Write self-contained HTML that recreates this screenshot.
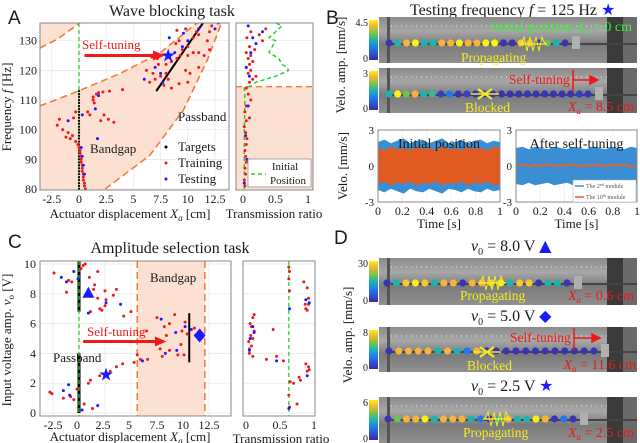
<!DOCTYPE html>
<html><head><meta charset="utf-8">
<style>
html,body{margin:0;padding:0;background:#fff;}
svg{display:block;font-family:"Liberation Serif",serif;}
</style></head>
<body>
<svg id="fig" width="640" height="443" viewBox="0 0 640 443" xmlns="http://www.w3.org/2000/svg">
<defs>
<linearGradient id="cmap" x1="0" y1="1" x2="0" y2="0">
<stop offset="0" stop-color="#3e26a8"/><stop offset="0.3" stop-color="#1f78f0"/><stop offset="0.5" stop-color="#1bb5b0"/><stop offset="0.7" stop-color="#8cc43c"/><stop offset="0.85" stop-color="#f6b43a"/><stop offset="1" stop-color="#f9f20f"/>
</linearGradient>
<linearGradient id="photo" x1="0" y1="0" x2="0" y2="1">
<stop offset="0" stop-color="#8a8a8a"/><stop offset="0.3" stop-color="#a8a8a8"/><stop offset="0.6" stop-color="#7a7a7a"/><stop offset="1" stop-color="#909090"/>
</linearGradient>
<clipPath id="clipA"><rect x="40" y="23" width="189" height="167"/></clipPath>
<clipPath id="clipC"><rect x="40" y="261" width="191" height="155"/></clipPath>
</defs>
<g id="layer"></g>
</svg>
<script>
// ---------- DATA ----------
const aTrainX=[0.6,0.5,0.5,0.4,0.4,0.4,0.3,0.3,0.3,0.2,0.2,0.2,0.1,0.1,0,-0.1,-0.3,-0.8,-1.2,-0.6,-1,-1.5,-2,-1.8,-0.5,-0.3,0.8,1.0,1.3,1.4,1.3,1.6,1.8,2.2,2.8,4,2.3,2.0,2.7,3.2,6.5,7,7.5,8,6.2,6.8,7.3,8.5,9,9.3,10,10.5,11,9.5,10,8.9,9.2,10.5,11,10.8,9.8,9,12.2,12,7.8,8.5,9.2,10,8.2,10.2,11,11.5,12,11.8,8,7.2,9.8,6.7];
const aTrainF=[80,81,82,83,84,85,86,87,88,89,90,91,92,93,94,95,96,97,97.5,98,99,100,101.5,103.5,104,106,106,105,110,109,111,112,112.5,112.7,113,113.5,105,103,103.5,102.5,116,117,118,119,120,119,122,123,124,125,125,126,126,127,128,129,130,131,132,133,134,133.5,135,133,115,114,115.5,116,117,119,121,125,127,130,122,124,120,124.5];
const aTestX=[0.5,0.4,0.3,0.2,-1,0.3,1.5,1.8,1.7,6,7,7.7,8.8,9.5,10,9.6,11,12.5,12.8,7.5,8.3];
const aTestF=[85,88,91,94,103,105,107,111.5,97,117,121,116,126,128,130,132.5,134,134,136,119,131];
const aTargetF=[80,81,82,83,84,85,86,87,88,89,90,91,92,93,94,95,96,97,98,99,100,101,102,103,104,105,106,107,108,109,110,111,112,113];
const aTargetLineX=[7.1,11.4];
const aTargetLineF=[113,136];
const curve1X=[-3.6,-2,0.1]; const curve1F=[127.5,130.5,136];
const curve2X=[-3.6,0,3.8,7.45,10.85]; const curve2F=[108,113.1,119,125.9,136];
const curve3X=[2.4,6.5,9.6,11.8,13.1]; const curve3F=[80,91.3,106.6,123.5,136];
const aTrR=[0.03,0.02,0.04,0.03,0.05,0.04,0.03,0.05,0.06,0.04,0.02,0.05,0.1,0.03,0.05,0.12,0.08,0.05,0.1,0.15,0.2,0.08,0.12,0.05,0.1,0.15,0.08,0.12,0.05,0.18,0.1,0.3,0.35,0.06,0.25,0.12];
const aTrF=[81,83,85,87,89,91,93,95,97,99,101,103,104,106,108,110,112,114,116,117,118,119,120,121,122,123,124,125,126,127,128,130,134,131,132,133];
const aTrBR=[0.02,0.06,0.04,0.08,0.1,0.05,0.12,0.2,0.15,0.3,0.08];
const aTrBF=[82,90,98,108,118,121,126,129,131,133,135];
const greenR=[0.02,0.02,0.03,0.02,0.15,0.2,0.5,0.7,0.68,0.6,0.55,0.4,0.45,0.5,0.4,0.45,0.55,0.6,0.5];
const greenF=[80,100,110,114,115,116,118,120,121,122,124,126,128,130,131,132,134,135,136];
const envBlueL=[2.0,2.2,1.9,2.1,2.3,1.9,2.1,2.2,1.9,2.1,2.3,1.9,2.0,2.2,1.9,2.1,2.2,1.9,2.1,2.0];
const envOrgL=[1.5,1.3,1.6,1.4,1.5,1.3,1.6,1.4,1.5,1.3,1.6,1.4,1.5,1.3,1.6,1.4,1.5,1.3,1.6,1.5];
const envBlueR=[1.5,1.6,1.4,1.6,1.5,1.4,1.6,1.5,1.4,1.6,1.5,1.4,1.6,1.5,1.4,1.6,1.5,1.4,1.6,1.5];
const envOrgR=[0.05,0.15,-0.05,0.1,0.0,0.15,-0.05,0.1,0.0,0.15,-0.05,0.1,0.0,0.15,-0.05,0.1,0.0,0.15,-0.05,0.05];
const dotsB1=[0.05,0.5,0.85,1,0.5,0.5,0.85,0.85,1,0.85,0.85,1,1,0.05,0.05,0.9,0.85,0.05,0.65,0.5,0.05];
const dotsB2=[0.5,1,0.65,0.85,0.5,0.55,0.1,0.3,0.05,0.1,0.05,0.05,0.05,0.05,0.05,0.05,0.05,0.05,0.05,0.05,0.05,0.05,0.1,0.05];
const dotsD1=[0.05,0.5,0.9,1,0.9,0.5,0.85,0.85,0.05,0.85,0.85,0.9,1,0.5,0.9,0.9,0.05,0.5,0.5,0.05];
const dotsD2=[0.05,0.85,0.85,0.85,0.85,0.5,0.85,0.5,0.3,0.85,0.05,0.05,0.05,0.05,0.05,0.05,0.05,0.05,0.05,0.05,0.05,0.05];
const dotsD3=[0.05,0.65,0.85,0.85,1,0.5,0.85,0.85,0.85,0.5,0.3,0.05,0.5,0.85,0.5,0.5,1,0.85,0.05,0.3,0.05];
const cTrainX=[-2.8,-2.6,-1.5,-0.8,-0.5,-0.2,-2.4,-1,-0.7,-1.2,0.2,0.4,0.6,1.0,1.5,1.8,2.5,2.6,1.4,2.0,3.3,3.6,4.3,2.5,5,0.9,1.1,2.0,2.5,3,3.6,4.2,5.3,6.6,5.6,0.5,1.3,1.1,2.2,1.8,7.8,8,8.2,8.7,9.2,10.2,10.4,11.1,9.5,8.7,8.4,9.8,10.1,7.5,8,9.9,6.5,5.9];
const cTrainV=[1.4,1.3,1,1.1,0.9,1.6,9.4,8.9,8.8,8.1,9.7,9.9,10,9.1,8.6,7.7,7.2,7.6,8.3,7.0,7.9,8.3,6.5,8.2,6.8,2.0,2.2,2.5,2.6,2.8,3.1,3.3,3.4,3.6,3.9,0.6,0.3,6.8,6.9,9.5,4.3,4.8,5.8,6,6.6,6.1,5.3,5.7,3.9,4.2,5.2,4.6,3.9,6.4,3.8,5.5,5.5,3.6];
const cTestX=[-1.7,-0.5,-1.2,-0.1,2.6,4,0.9,-1.5,-0.9,-1.0,1.8,0.3,7.9,9.3,10.2,9.4,8.3,10.8,6.1];
const cTestV=[9.1,9.5,8.8,9.0,7.4,7.3,6.7,1.5,1.2,1.9,0.5,0.2,6.3,5.4,5.8,4.2,4.0,5.6,3.5];
const cTrR=[0.05,0.08,0.1,0.12,0.06,0.1,0.04,0.08,0.12,0.05,0.1,0.07,0.3,0.45,0.55,0.4,0.9,0.92,0.88,0.93,0.85,0.9,0.92,0.87,0.9,0.88,0.92,0.75,0.7,0.8,0.78,0.63,0.64,0.63,0.64,0.63,0.65,0.64];
const cTrV=[4.0,4.5,5.0,5.5,6.0,6.4,4.8,5.8,6.6,4.3,3.8,5.2,3.6,3.8,3.5,5.6,2.8,3.1,3.3,2.9,8.8,8.4,7.7,7.3,6.9,7.0,7.3,0.6,2.0,2.2,2.4,9.8,9.5,9.0,8.2,1.2,2.1,0.4];
const cTrBR=[0.1,0.12,0.06,0.05,0.45,0.9,0.93,0.88,0.64,0.63];
const cTrBV=[5.8,5.4,5.0,4.2,3.5,2.5,7.4,7.6,7.0,0.3];
const aXTicks=[-2.5,0,2.5,5,7.5,10,12.5];
const aYTicks=[80,90,100,110,120,130];
const trTicks=[0,0.5,1];
const bYTicks=[-3,0,3];
const bXTicks=[0,0.2,0.4,0.6,0.8,1];
const cYTicks=[0,2,4,6,8,10];

// ---------- HELPERS ----------
const NS='http://www.w3.org/2000/svg';
const root=document.getElementById('layer');
function mk(tag,at,parent){const e=document.createElementNS(NS,tag);for(const k in at)e.setAttribute(k,at[k]);(parent||root).appendChild(e);return e;}
function lin(d0,d1,r0,r1){return v=>r0+(v-d0)*(r1-r0)/(d1-d0);}
function txt(x,y,s,st){st=st||{};
 const a={x:x,y:y};
 if(st.anchor)a['text-anchor']=st.anchor;
 if(st.transform)a.transform=st.transform;
 let style='font-size:'+(st.size||12)+'px;fill:'+(st.fill||'#1a1a1a')+';';
 if(st.italic)style+='font-style:italic;';
 if(st.family)style+='font-family:'+st.family+';';
 a.style=style;
 const t=mk('text',a);t.innerHTML=s;return t;}
function cmap(v){const st=[[0,[62,38,168]],[0.3,[31,120,240]],[0.5,[27,181,176]],[0.7,[140,196,60]],[0.85,[246,180,58]],[1,[249,242,15]]];
 for(let i=1;i<st.length;i++){if(v<=st[i][0]){const a=st[i-1],b=st[i],t=(v-a[0])/(b[0]-a[0]);return 'rgb('+a[1].map((c,j)=>Math.round(c+(b[1][j]-c)*t)).join(',')+')';}}return 'rgb(249,242,15)';}
const XA='<tspan font-style="italic">X</tspan><tspan font-style="italic" font-size="9" dy="3">a</tspan><tspan dy="-3"> </tspan>';
const DJ='"DejaVu Sans",sans-serif';

// ---------- PANEL A ----------
const xA=lin(0,12.5,79,215), yA=lin(80,130,189,40.7);
txt(8,24,'A',{size:19,family:'"Liberation Sans",sans-serif'});
txt(172,16,'Wave blocking task',{size:16,anchor:'middle'});
const gA=mk('g',{'clip-path':'url(#clipA)'});


aXTicks.forEach(v=>{const l=mk('line',{x1:xA(v),x2:xA(v),y1:23,y2:190,stroke:'#e6e6e6','stroke-width':0.7},gA);

});
aYTicks.forEach(v=>{const l=mk('line',{x1:40,x2:229,y1:yA(v),y2:yA(v),stroke:'#e6e6e6','stroke-width':0.7},gA);

});
let p1=curve1X.map((x,i)=>xA(x)+','+yA(curve1F[i]));p1.push(xA(0.1)+','+yA(140),xA(-3.6)+','+yA(140));
const sh1=mk('polygon',{points:p1.join(' '),fill:'#fce0d2'},gA);


let p2=curve2X.map((x,i)=>xA(x)+','+yA(curve2F[i]));
for(let i=curve3X.length-1;i>=0;i--)p2.push(xA(curve3X[i])+','+yA(curve3F[i]));
p2.push(xA(-3.6)+','+yA(78));
const sh2=mk('polygon',{points:p2.join(' '),fill:'#fce0d2'},gA);


[[curve1X,curve1F],[curve2X,curve2F],[curve3X,curve3F]].forEach(c=>{
 const pl=mk('polyline',{points:c[0].map((x,i)=>xA(x)+','+yA(c[1][i])).join(' '),fill:'none',stroke:'#f47a3a','stroke-width':1.6,'stroke-dasharray':'7,4'},gA);
 
 });
const gl=mk('line',{x1:xA(0),x2:xA(0),y1:23,y2:190,stroke:'#2ecc2e','stroke-width':1.3,'stroke-dasharray':'4,3'},gA);


aTargetF.forEach(f=>{const c=mk('circle',{cx:xA(0),cy:yA(f),r:1.1,fill:'#000'},gA);

});
const tl=mk('line',{x1:xA(aTargetLineX[0]),y1:yA(aTargetLineF[0]),x2:xA(aTargetLineX[1]),y2:yA(aTargetLineF[1]),stroke:'#000','stroke-width':2},gA);


aTrainX.forEach((x,i)=>{const c=mk('circle',{cx:xA(x),cy:yA(aTrainF[i]),r:1.5,fill:'#f01818'},gA);

});
aTestX.forEach((x,i)=>{const c=mk('circle',{cx:xA(x),cy:yA(aTestF[i]),r:1.5,fill:'#1a1aff'},gA);

});
const arA=mk('path',{d:`M${xA(0.5)},${yA(125)-1.5} L${xA(6.8)},${yA(125)-1.5} L${xA(6.8)},${yA(125)-5} L${xA(7.9)},${yA(125)} L${xA(6.8)},${yA(125)+5} L${xA(6.8)},${yA(125)+1.5} L${xA(0.5)},${yA(125)+1.5}Z`,fill:'#f01818'});


txt(82,49,'Self-tuning',{size:13,fill:'#f01818'});
const stA=txt(xA(8.2),yA(125)+6,'★',{fill:'#1a1aff',size:18,anchor:'middle',family:DJ});


txt(90,153,'Bandgap',{size:13});
txt(178,121,'Passband',{size:13});
[['#000','Targets',151],['#f01818','Training',167],['#1a1aff','Testing',183]].forEach(l=>{
 const c=mk('circle',{cx:166,cy:l[2]-4,r:1.5,fill:l[0]});
 
 
 txt(178,l[2],l[1],{size:13});});
mk('rect',{x:40,y:23,width:189,height:167,fill:'none',stroke:'#888','stroke-width':1});
aXTicks.forEach(v=>txt(xA(v),203,String(v),{anchor:'middle'}));
aYTicks.forEach(v=>txt(37,yA(v)+4,String(v),{anchor:'end'}));
txt(130,218,'Actuator displacement '+XA+'[cm]',{size:13,anchor:'middle'});
txt(11,107,'Frequency <tspan font-style="italic">f</tspan> [Hz]',{size:13,anchor:'middle',transform:'rotate(-90 11 107)'});
const xT=lin(0,1,243,308);
mk('rect',{x:236,y:yA(114.5),width:77,height:190-yA(114.5),fill:'#fce0d2'});
aYTicks.forEach(v=>mk('line',{x1:236,x2:313,y1:yA(v),y2:yA(v),stroke:'#e6e6e6','stroke-width':0.7}));
mk('line',{x1:236,x2:313,y1:yA(114.5),y2:yA(114.5),stroke:'#f47a3a','stroke-width':1.4,'stroke-dasharray':'6,4'});
const gp=mk('polyline',{points:greenR.map((r,i)=>xT(r)+','+yA(greenF[i])).join(' '),fill:'none',stroke:'#2ecc2e','stroke-width':1.5,'stroke-dasharray':'4,3'});


aTrR.forEach((r,i)=>{const c=mk('circle',{cx:xT(r),cy:yA(aTrF[i]),r:1.5,fill:'#f01818'});

});
aTrBR.forEach((r,i)=>{const c=mk('circle',{cx:xT(r),cy:yA(aTrBF[i]),r:1.5,fill:'#1a1aff'});

});
mk('rect',{x:248,y:159,width:63,height:28,fill:'#fff',stroke:'#888','stroke-width':0.7});
mk('line',{x1:251,x2:266,y1:174,y2:174,stroke:'#2ecc2e','stroke-width':1.5,'stroke-dasharray':'4,3'});
txt(285,170,'Initial',{size:11,anchor:'middle'});
txt(288,184,'Position',{size:11,anchor:'middle'});
mk('rect',{x:236,y:23,width:77,height:167,fill:'none',stroke:'#888','stroke-width':1});
trTicks.forEach(v=>txt(xT(v),203,String(v),{anchor:'middle'}));
txt(274,218,'Transmission ratio',{size:13,anchor:'middle'});

// ---------- photos ----------
function photo(x,y,w,h,vals,dx0,dx1,dy,cbTop){
 const g=mk('g',{});
 
 
 mk('rect',{x:x,y:y,width:w,height:h,fill:'url(#photo)'},g);
 mk('rect',{x:x+w-30,y:y,width:16,height:h,fill:'#3a3a3a'},g);
 mk('rect',{x:x+w-14,y:y,width:14,height:h,fill:'#6a6a6a'},g);
 mk('rect',{x:x+8,y:y,width:3,height:h,fill:'#555'},g);
 mk('line',{x1:x+12,x2:x+w-30,y1:y+9,y2:y+9,stroke:'#d8d8d8','stroke-width':1.2,'stroke-dasharray':'1,4'},g);
 mk('line',{x1:x+12,x2:x+w,y1:dy+1,y2:dy+1,stroke:'#444','stroke-width':2},g);
 const step=(dx1-dx0)/(vals.length-1);
 vals.forEach((v,i)=>{const c=mk('circle',{cx:dx0+i*step,cy:dy,r:3.6,fill:cmap(v)},g);
 
 });
 mk('rect',{x:dx1+7,y:dy-7,width:8,height:13,fill:'#b0b0b0'},g);
 const cb=mk('rect',{x:x-10,y:y+3,width:9,height:h-6,fill:'url(#cmap)'});
 
 
 txt(x-11,y+9,cbTop,{size:10,anchor:'end'});
 txt(x-11,y+h-1,'0',{size:10,anchor:'end'});
}
function wave(cx,cy){mk('polyline',{points:`${cx-12},${cy} ${cx-9},${cy-7} ${cx-6},${cy+7} ${cx-3},${cy-7} ${cx},${cy+7} ${cx+3},${cy-7} ${cx+6},${cy+7} ${cx+9},${cy-7} ${cx+12},${cy}`,fill:'none',stroke:'#f4ec20','stroke-width':1});
 mk('line',{x1:cx-14,x2:cx+14,y1:cy,y2:cy,stroke:'#f4ec20','stroke-width':1.5});}
function blocked(cx,cy){mk('path',{d:`M${cx-7},${cy-5}L${cx+7},${cy+5}M${cx-7},${cy+5}L${cx+7},${cy-5}`,stroke:'#f4ec20','stroke-width':2});
 mk('line',{x1:cx-14,x2:cx+14,y1:cy,y2:cy,stroke:'#f4ec20','stroke-width':1.5});}

// ---------- PANEL B ----------
txt(326,24,'B',{size:19,family:'"Liberation Sans",sans-serif'});
txt(410,15,'Testing frequency <tspan font-style="italic">f</tspan> = 125 Hz <tspan fill="#1a1aff" style="font-family:DejaVu Sans">★</tspan>',{size:16});
photo(379,17,258,46,dotsB1,389,565,43,'4.5');
photo(379,68,258,45,dotsB2,389,588,94,'3');
txt(632,31,'Initial position '+XA+'= 0 cm',{size:14,anchor:'end',fill:'#3cf03c'});
wave(533,44); txt(461,62,'Propagating',{size:13.5,fill:'#f4ec20'});
blocked(485,94); txt(465,112,'Blocked',{size:13.5,fill:'#f4ec20'});
txt(509,84,'Self-tuning',{size:13.5,fill:'#f01818'});
mk('line',{x1:573,x2:573,y1:70,y2:92,stroke:'#f01818','stroke-width':1.5});
mk('path',{d:'M573,80 L594,80 M590,76 L598,80 L590,84Z',stroke:'#f01818',fill:'#f01818','stroke-width':1.5});
txt(634,111,XA+'= 8.5 cm',{size:14,anchor:'end',fill:'#f01818'});
txt(345,65,'Velo. amp. [mm/s]',{size:13,anchor:'middle',transform:'rotate(-90 345 65)'});
txt(347,166,'Velo. [mm/s]',{size:13,anchor:'middle',transform:'rotate(-90 347 166)'});
function tsPlot(x0,w,envB,envO,title,legend){
 const xs=lin(0,1,x0,x0+w), ys=lin(-3,3,202,130);
 bXTicks.forEach(v=>mk('line',{x1:xs(v),x2:xs(v),y1:130,y2:202,stroke:'#eee','stroke-width':0.7}));
 const n=envB.length;
 const top=envB.map((a,i)=>xs(i/(n-1))+','+ys(a)), bot=envB.map((a,i)=>xs(i/(n-1))+','+ys(-a)).reverse();
 const pb=mk('polygon',{points:top.concat(bot).join(' '),fill:'#3a8fd4'});
 
 
 if(legend){
  const po=mk('polyline',{points:envO.map((a,i)=>xs(i/(n-1))+','+ys(a)).join(' '),fill:'none',stroke:'#e8602a','stroke-width':2});
  
  
 } else {
  const t2=envO.map((a,i)=>xs(i/(n-1))+','+ys(a)), b2=envO.map((a,i)=>xs(i/(n-1))+','+ys(-a)).reverse();
  const po=mk('polygon',{points:t2.concat(b2).join(' '),fill:'#e05a22'});
  
  
 }
 mk('rect',{x:x0,y:130,width:w,height:72,fill:'none',stroke:'#888','stroke-width':1});
 txt(x0+w/2,148,title,{size:14,anchor:'middle'});
 bYTicks.forEach(v=>txt(x0-4,ys(v)+4,String(v),{size:11,anchor:'end'}));
 bXTicks.forEach(v=>txt(xs(v),215,String(v),{anchor:'middle'}));
 txt(x0+w/2,228,'Time [s]',{size:13,anchor:'middle'});
 if(legend){
  mk('rect',{x:573,y:180,width:63,height:22,fill:'#fff',stroke:'#aaa','stroke-width':0.5});
  mk('line',{x1:575,x2:584,y1:186,y2:186,stroke:'#3a8fd4','stroke-width':1.5});
  mk('line',{x1:575,x2:584,y1:197,y2:197,stroke:'#e8602a','stroke-width':1.5});
  txt(586,188,'The 2<tspan font-size="4" dy="-2">nd</tspan><tspan dy="2"> module</tspan>',{size:6,fill:'#555'});
  txt(586,199,'The 10<tspan font-size="4" dy="-2">th</tspan><tspan dy="2"> module</tspan>',{size:6,fill:'#555'});
 }
}
tsPlot(378,122,envBlueL,envOrgL,'Initial position',false);
tsPlot(516,121,envBlueR,envOrgR,'After self-tuning',true);

// ---------- PANEL C ----------
const xC=lin(0,12.5,79,209), yC=lin(0,10,413,264);
txt(8,248,'C',{size:19,family:'"Liberation Sans",sans-serif'});
txt(170,253,'Amplitude selection task',{size:16,anchor:'middle'});
const gC=mk('g',{'clip-path':'url(#clipC)'});


aXTicks.forEach(v=>mk('line',{x1:xC(v),x2:xC(v),y1:261,y2:416,stroke:'#e6e6e6','stroke-width':0.7},gC));
cYTicks.forEach(v=>mk('line',{x1:40,x2:231,y1:yC(v),y2:yC(v),stroke:'#e6e6e6','stroke-width':0.7},gC));
const shC=mk('rect',{x:xC(5.6),y:261,width:xC(12.1)-xC(5.6),height:155,fill:'#fce0d2'},gC);


[5.6,12.1].forEach(v=>mk('line',{x1:xC(v),x2:xC(v),y1:261,y2:416,stroke:'#f47a3a','stroke-width':1.5,'stroke-dasharray':'7,4'},gC));
mk('line',{x1:xC(0),x2:xC(0),y1:yC(0),y2:yC(4),stroke:'#000','stroke-width':3},gC);
mk('line',{x1:xC(0),x2:xC(0),y1:yC(6.8),y2:yC(10.2),stroke:'#000','stroke-width':3},gC);
mk('line',{x1:xC(0),x2:xC(0),y1:261,y2:416,stroke:'#2ecc2e','stroke-width':1.3,'stroke-dasharray':'4,3'},gC);
mk('line',{x1:xC(10.6),x2:xC(10.6),y1:yC(3.4),y2:yC(6.7),stroke:'#000','stroke-width':2},gC);
cTrainX.forEach((x,i)=>{const c=mk('circle',{cx:xC(x),cy:yC(cTrainV[i]),r:1.5,fill:'#f01818'},gC);

});
cTestX.forEach((x,i)=>{const c=mk('circle',{cx:xC(x),cy:yC(cTestV[i]),r:1.5,fill:'#1a1aff'},gC);

});
mk('path',{d:`M${xC(0.4)},${yC(4.8)-1.5} L${xC(7.3)},${yC(4.8)-1.5} L${xC(7.3)},${yC(4.8)-5} L${xC(8.4)},${yC(4.8)} L${xC(7.3)},${yC(4.8)+5} L${xC(7.3)},${yC(4.8)+1.5} L${xC(0.4)},${yC(4.8)+1.5}Z`,fill:'#f01818'});
txt(87,336,'Self-tuning',{size:13,fill:'#f01818'});
const tri=mk('polygon',{points:`${xC(0.9)},${yC(8)-7} ${xC(0.9)-6},${yC(8)+4} ${xC(0.9)+6},${yC(8)+4}`,fill:'#1a1aff'});


const dia=mk('polygon',{points:`${xC(11.6)},${yC(5.2)-7} ${xC(11.6)+6},${yC(5.2)} ${xC(11.6)},${yC(5.2)+7} ${xC(11.6)-6},${yC(5.2)}`,fill:'#1a1aff'});


const stC=txt(xC(2.6),yC(2.6)+6,'★',{fill:'#1a1aff',size:18,anchor:'middle',family:DJ});


txt(150,282,'Bandgap',{size:13});
txt(53,362,'Passband',{size:13});
mk('rect',{x:40,y:261,width:191,height:155,fill:'none',stroke:'#888','stroke-width':1});
aXTicks.forEach(v=>txt(xC(v)-(v>=0&&v<7?2:0),429,String(v),{anchor:'middle'}));
cYTicks.forEach(v=>txt(36,yC(v)+4,String(v),{anchor:'end'}));
txt(130,441,'Actuator displacement '+XA+'[cm]',{size:13,anchor:'middle'});
txt(11,340,'Input voltage amp. <tspan font-style="italic">v</tspan><tspan font-size="9" dy="3">o</tspan><tspan dy="-3"> [V]</tspan>',{size:13,anchor:'middle',transform:'rotate(-90 11 340)'});
const xTC=lin(0,1,246,314);
cYTicks.forEach(v=>mk('line',{x1:243,x2:315,y1:yC(v),y2:yC(v),stroke:'#e6e6e6','stroke-width':0.7}));
mk('line',{x1:xTC(0.63),x2:xTC(0.63),y1:261,y2:416,stroke:'#2ecc2e','stroke-width':1.3,'stroke-dasharray':'4,3'});
cTrR.forEach((r,i)=>{const c=mk('circle',{cx:xTC(r),cy:yC(cTrV[i]),r:1.5,fill:'#f01818'});

});
cTrBR.forEach((r,i)=>{const c=mk('circle',{cx:xTC(r),cy:yC(cTrBV[i]),r:1.5,fill:'#1a1aff'});

});
mk('rect',{x:243,y:261,width:72,height:155,fill:'none',stroke:'#888','stroke-width':1});
trTicks.forEach(v=>txt(xTC(v),429,String(v),{anchor:'middle'}));
txt(281,443,'Transmission ratio',{size:13,anchor:'middle'});

// ---------- PANEL D ----------
txt(334,244,'D',{size:19,family:'"Liberation Sans",sans-serif'});
const V0='<tspan font-style="italic">v</tspan><tspan font-size="10" dy="4">0</tspan><tspan dy="-4">';
txt(471,251,V0+' = 8.0 V </tspan><tspan fill="#1a1aff" style="font-family:DejaVu Sans">▲</tspan>',{size:16});
txt(471,321,V0+' = 5.0 V </tspan><tspan fill="#1a1aff" style="font-family:DejaVu Sans">◆</tspan>',{size:16});
txt(471,391,V0+' = 2.5 V </tspan><tspan fill="#1a1aff" style="font-family:DejaVu Sans">★</tspan>',{size:16});
photo(379,258,258,47,dotsD1,387,567,283,'30');
photo(379,327,258,45,dotsD2,389,594,351,'8');
photo(379,397,258,46,dotsD3,388,573,419,'6');
wave(492,283); txt(460,300,'Propagating',{size:13.5,fill:'#f4ec20'});
blocked(487,352); txt(467,370,'Blocked',{size:13.5,fill:'#f4ec20'});
wave(497,419); txt(463,437,'Propagating',{size:13.5,fill:'#f4ec20'});
txt(634,300,XA+'= 0.6 cm',{size:14,anchor:'end',fill:'#f01818'});
txt(636,369,XA+'= 11.6 cm',{size:14,anchor:'end',fill:'#f01818'});
txt(634,437,XA+'= 2.5 cm',{size:14,anchor:'end',fill:'#f01818'});
txt(510,342,'Self-tuning',{size:13.5,fill:'#f01818'});
mk('line',{x1:574,x2:574,y1:328,y2:350,stroke:'#f01818','stroke-width':1.5});
mk('path',{d:'M574,338 L596,338 M592,334 L600,338 L592,342Z',stroke:'#f01818',fill:'#f01818','stroke-width':1.5});
txt(352,335,'Velo. amp. [mm/s]',{size:13,anchor:'middle',transform:'rotate(-90 352 335)'});
</script>
</body></html>
